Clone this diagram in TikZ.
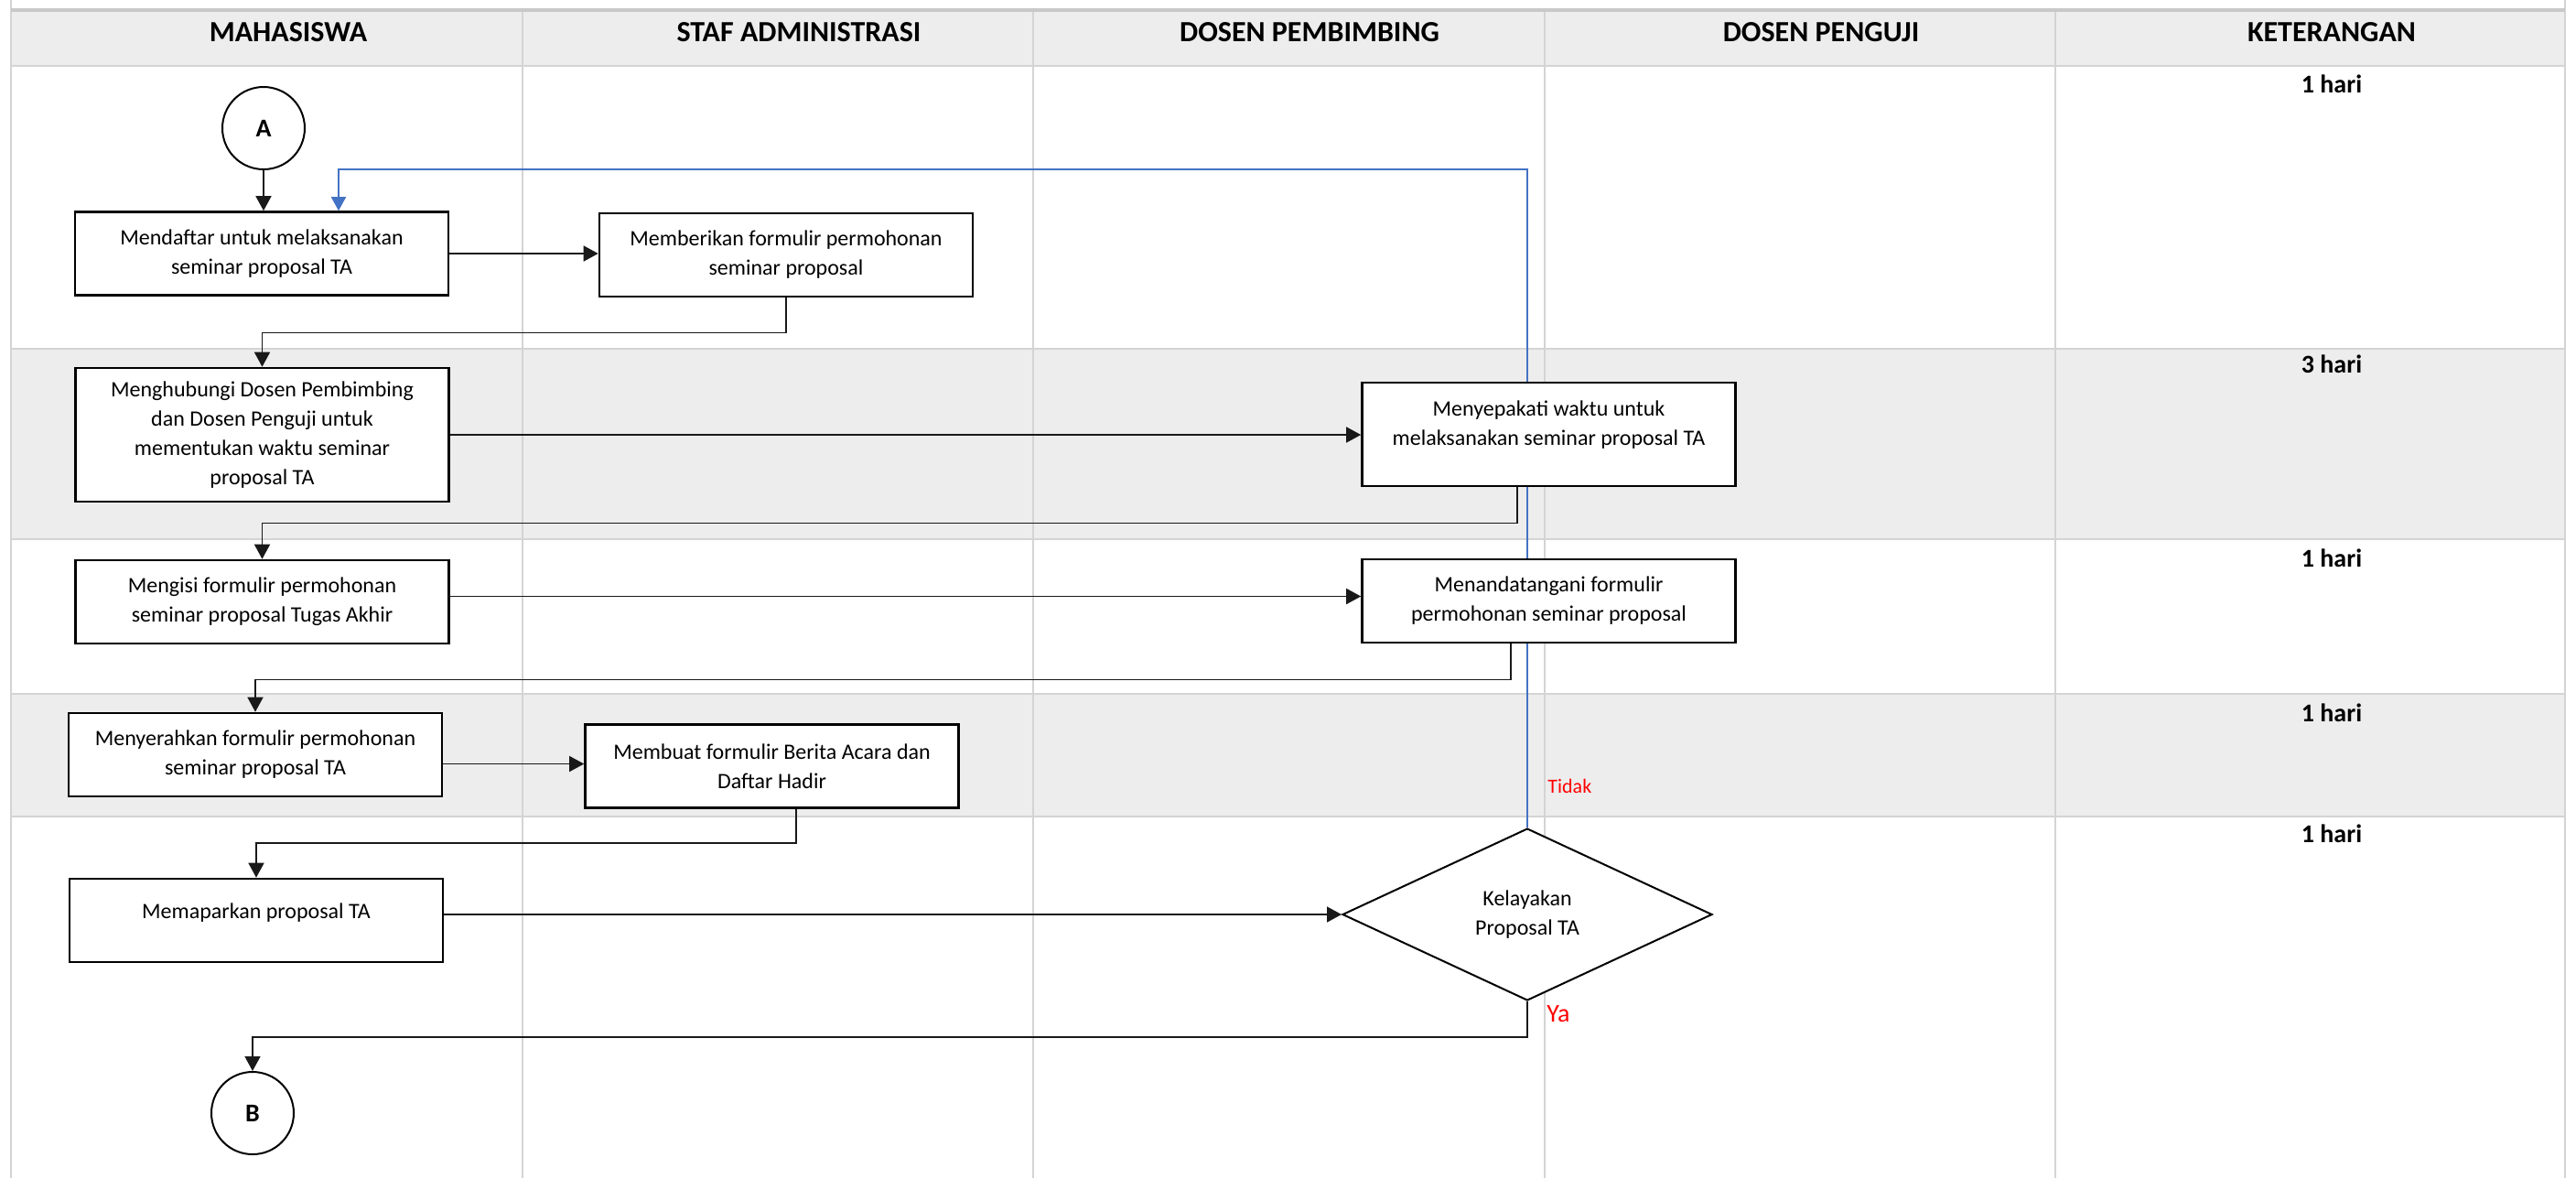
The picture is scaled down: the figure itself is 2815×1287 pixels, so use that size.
\documentclass[tikz,border=0pt]{standalone}
\usepackage{fontspec}
\setmainfont{Carlito}
\usetikzlibrary{shapes.geometric,arrows.meta,calc}
\definecolor{gridc}{HTML}{D4D4D4}
\definecolor{topc}{HTML}{C8C8C8}
\definecolor{bandc}{HTML}{EDEDED}
\definecolor{bluec}{RGB}{68,114,196}
\definecolor{redc}{HTML}{FF0000}
\pgfdeclarelayer{gridlayer}
\pgfdeclarelayer{linelayer}
\pgfsetlayers{gridlayer,linelayer,main}
\begin{document}
\begin{tikzpicture}[x=0.5pt,y=-0.5pt,
  procbox/.style={draw=black, line width=1.3pt, fill=white, minimum width=204pt, minimum height=45.5pt, inner sep=2pt, align=center, font=\fontsize{12}{16}\selectfont},
  boxtext/.style={align=center, inner sep=0pt, font=\fontsize{12}{16}\selectfont},
  hdr/.style={font=\bfseries\fontsize{16}{19}\selectfont, inner sep=0pt},
  dur/.style={font=\bfseries\fontsize{14}{17}\selectfont, inner sep=0pt},
  conncircle/.style={draw=black, line width=1pt, fill=white, circle, minimum size=45pt, inner sep=0pt, font=\bfseries\fontsize{14}{17}\selectfont},
  decision/.style={draw=black, line width=1pt, fill=white, diamond, minimum width=202pt, minimum height=94pt, inner sep=0pt, align=center, font=\fontsize{12}{16}\selectfont},
  conn/.style={draw=black!90, line width=0.75pt, -{Triangle[width=8.5pt,length=8pt]}},
  backconn/.style={draw=bluec, line width=0.8pt, -{Triangle[width=8pt,length=7.5pt]}},
  redlbl/.style={text=redc, inner sep=0pt, anchor=west}
]
\useasboundingbox (0,0) rectangle (2815,1287);

% ---------- grid ----------
\begin{pgfonlayer}{gridlayer}
  \fill[white] (0,0) rectangle (2815,1287);
  \fill[bandc] (12,12) rectangle (2803,72);
  \fill[bandc] (12,381) rectangle (2803,589);
  \fill[bandc] (12,758) rectangle (2803,892);
  \foreach \y in {72,381,589,758,892} \draw[gridc, line width=0.75pt] (12,\y) -- (2803,\y);
  \foreach \x in {571,1129,1688,2246} \draw[gridc, line width=0.75pt] (\x,12) -- (\x,1287);
  \draw[gridc, line width=0.75pt] (12,0) -- (12,1287);
  \draw[gridc, line width=0.75pt] (2803,0) -- (2803,1287);
  \draw[topc, line width=1.7pt] (12,11) -- (2803,11);
\end{pgfonlayer}

% ---------- headers ----------
\node[hdr] (hM) at (315,35) {MAHASISWA};
\node[hdr] (hS) at (873,35) {STAF ADMINISTRASI};
\node[hdr] (hP) at (1431,35) {DOSEN PEMBIMBING};
\node[hdr] (hU) at (1990,35) {DOSEN PENGUJI};
\node[hdr] (hK) at (2548,35) {KETERANGAN};

% ---------- durations ----------
\node[dur] (k1) at (2548,92) {1 hari};
\node[dur] (k2) at (2548,398) {3 hari};
\node[dur] (k3) at (2548,610) {1 hari};
\node[dur] (k4) at (2548,779) {1 hari};
\node[dur] (k5) at (2548,911) {1 hari};

% ---------- nodes ----------
\node[conncircle] (cA) at (288,140) {A};
\node[procbox] (A1) at (286,277) {Mendaftar untuk melaksanakan\\seminar proposal TA};
\node[procbox] (S1) at (859,278.5) {Memberikan formulir permohonan\\seminar proposal};
\node[procbox, minimum height=73pt] (A2) at (286.5,475) {Menghubungi Dosen Pembimbing\\dan Dosen Penguji untuk\\mementukan waktu seminar\\proposal TA};
\node[procbox, minimum height=56.5pt] (D1) at (1692.5,474.5) {};
\node[boxtext] (D1t) at (1692.5,464) {Menyepakati waktu untuk\\melaksanakan seminar proposal TA};
\node[procbox] (A3) at (286.5,657.5) {Mengisi formulir permohonan\\seminar proposal Tugas Akhir};
\node[procbox] (D2) at (1692.5,656.5) {Menandatangani formulir\\permohonan seminar proposal};
\node[procbox] (A4) at (279,824.5) {Menyerahkan formulir permohonan\\seminar proposal TA};
\node[procbox] (S2) at (843.5,837) {Membuat formulir Berita Acara dan\\Daftar Hadir};
\node[procbox] (A5) at (280,1005.5) {};
\node[boxtext] (A5t) at (280,997) {Memaparkan proposal TA};
\node[decision] (Dm) at (1669,999) {Kelayakan\\Proposal TA};
\node[conncircle] (cB) at (276,1216) {B};

\node[redlbl, font=\fontsize{11}{13}\selectfont] (tidak) at (1691,859) {Tidak};
\node[redlbl, font=\fontsize{14}{17}\selectfont] (ya) at (1690,1108) {Ya};

% ---------- connectors ----------
\begin{pgfonlayer}{linelayer}
  \draw[conn] (cA.south) -- (cA.south |- A1.north);
  \draw[conn] (A1.east) -- (A1.east -| S1.west);
  \draw[conn] (S1.south) -- ++(0,38) -| (A2.north);
  \draw[conn] (A2.east) -- (A2.east -| D1.west);
  \draw[conn] ([xshift=-17.25pt]D1.south) -- ++(0,39) -| (A3.north);
  \draw[conn] ([yshift=3pt]A3.east) -- ([yshift=3pt]A3.east -| D2.west);
  \draw[conn] ([xshift=-20.75pt]D2.south) -- ++(0,39) -| (A4.north);
  \draw[conn] ([yshift=-5pt]A4.east) -- ([yshift=-5pt]A4.east -| S2.west);
  \draw[conn] ([xshift=13.25pt]S2.south) -- ++(0,37) -| (A5.north);
  \draw[conn] (A5.east |- Dm.west) -- (Dm.west);
  \draw[conn] (Dm.south) -- ++(0,39) -| (cB.north);
  \draw[backconn] (Dm.north) -- ++(0,-719) -| ([xshift=42pt]A1.north);
\end{pgfonlayer}
\end{tikzpicture}
\end{document}
